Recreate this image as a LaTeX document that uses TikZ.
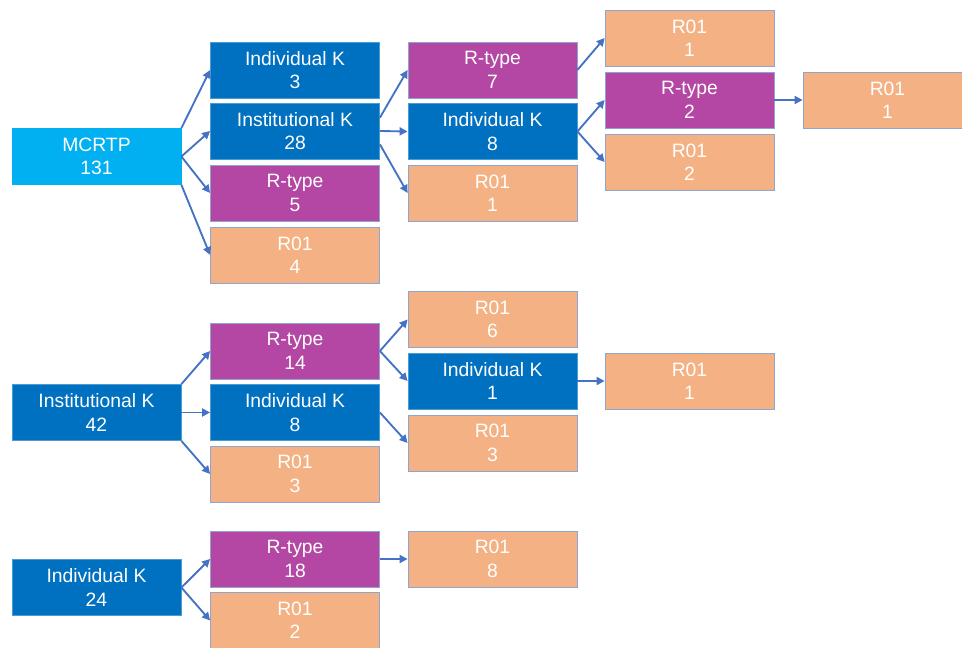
\documentclass[tikz,border=0pt]{standalone}
\usepackage{fontspec}
\setmainfont{Liberation Sans}
\usetikzlibrary{arrows.meta}

\definecolor{skyblue}{HTML}{00B0F0}
\definecolor{kblue}{HTML}{0070C0}
\definecolor{rpurple}{HTML}{B446A4}
\definecolor{rsalmon}{HTML}{F4B183}
\definecolor{edgegray}{HTML}{8EA5D2}
\definecolor{linkblue}{HTML}{4472C4}

\begin{document}
\begin{tikzpicture}[
   x=0.75pt, y=-0.75pt,
   every node/.append style={align=center, text=white},  % <-- two line labels
   box/.style={rectangle, draw=edgegray, line width=0.6pt,
      minimum width=126.75pt, minimum height=42pt, inner sep=0pt,
      font=\fontsize{14.5}{17.5}\selectfont},
   link/.style={draw=linkblue, line width=1.4pt,
      -{Triangle[length=6pt,width=6pt]}}
]
\tikzset{
   topbox/.style={box, fill=skyblue, draw=skyblue},
   kbox/.style={box, fill=kblue, draw=kblue!70!white},
   rtbox/.style={box, fill=rpurple},
   robox/.style={box, fill=rsalmon}
}
\useasboundingbox (0,0) rectangle (962,648);

% MCRTP
\node[topbox] (mcrtp) at (96.5,156.5) {MCRTP\\131};
\node[kbox]  (indk3)   at (295,70)    {Individual K\\3};
\node[kbox]  (instk28) at (295,131)   {Institutional K\\28};
\node[rtbox] (rtype5)  at (295,193)   {R-type\\5};
\node[robox] (rzero4)  at (295,255)   {R01\\4};
\node[rtbox] (rtype7)  at (492.5,70)  {R-type\\7};
\node[kbox]  (indk8)   at (492.5,131.5) {Individual K\\8};
\node[robox] (rzero1a) at (492.5,193) {R01\\1};
\node[robox] (rzero1b) at (689.5,38)  {R01\\1};
\node[rtbox] (rtype2)  at (689.5,100) {R-type\\2};
\node[robox] (rzero2)  at (689.5,162) {R01\\2};
\node[robox] (rzero1c) at (887.5,100) {R01\\1};

% Institutional K
\node[kbox]  (instk42) at (96.5,412.5) {Institutional K\\42};
\node[rtbox] (rtype14) at (295,351)   {R-type\\14};
\node[kbox]  (indk8b)  at (295,412.5) {Individual K\\8};
\node[robox] (rzero3)  at (295,474)   {R01\\3};
\node[robox] (rzero6)  at (492.5,319.5) {R01\\6};
\node[kbox]  (indk1)   at (492.5,381) {Individual K\\1};
\node[robox] (rzero3b) at (492.5,443) {R01\\3};
\node[robox] (rzero1d) at (689.5,381) {R01\\1};

% Individual K
\node[kbox]  (indk24)  at (96.5,587.5) {Individual K\\24};
\node[rtbox] (rtype18) at (295,559)   {R-type\\18};
\node[robox] (rzero2b) at (295,620.5) {R01\\2};
\node[robox] (rzero8)  at (492.5,559) {R01\\8};

\draw[link] (mcrtp.north east) -- (indk3.west);
\draw[link] (mcrtp.south east) -- (rzero4.west);
\draw[link] ([yshift=10pt]instk28.east) -- (rtype7.west);
\draw[link] ([yshift=-10pt]instk28.east) -- (rzero1a.west);
\draw[link] (instk42.north east) -- (rtype14.west);
\draw[link] (instk42.south east) -- (rzero3.west);
\foreach \a/\b in {mcrtp/instk28, mcrtp/rtype5, instk28/indk8,
   rtype7/rzero1b, indk8/rtype2, indk8/rzero2, rtype2/rzero1c,
   instk42/indk8b, rtype14/rzero6, rtype14/indk1, indk8b/rzero3b,
   indk1/rzero1d, indk24/rtype18, indk24/rzero2b, rtype18/rzero8}
   \draw[link] (\a.east) -- (\b.west);
\end{tikzpicture}
\end{document}
